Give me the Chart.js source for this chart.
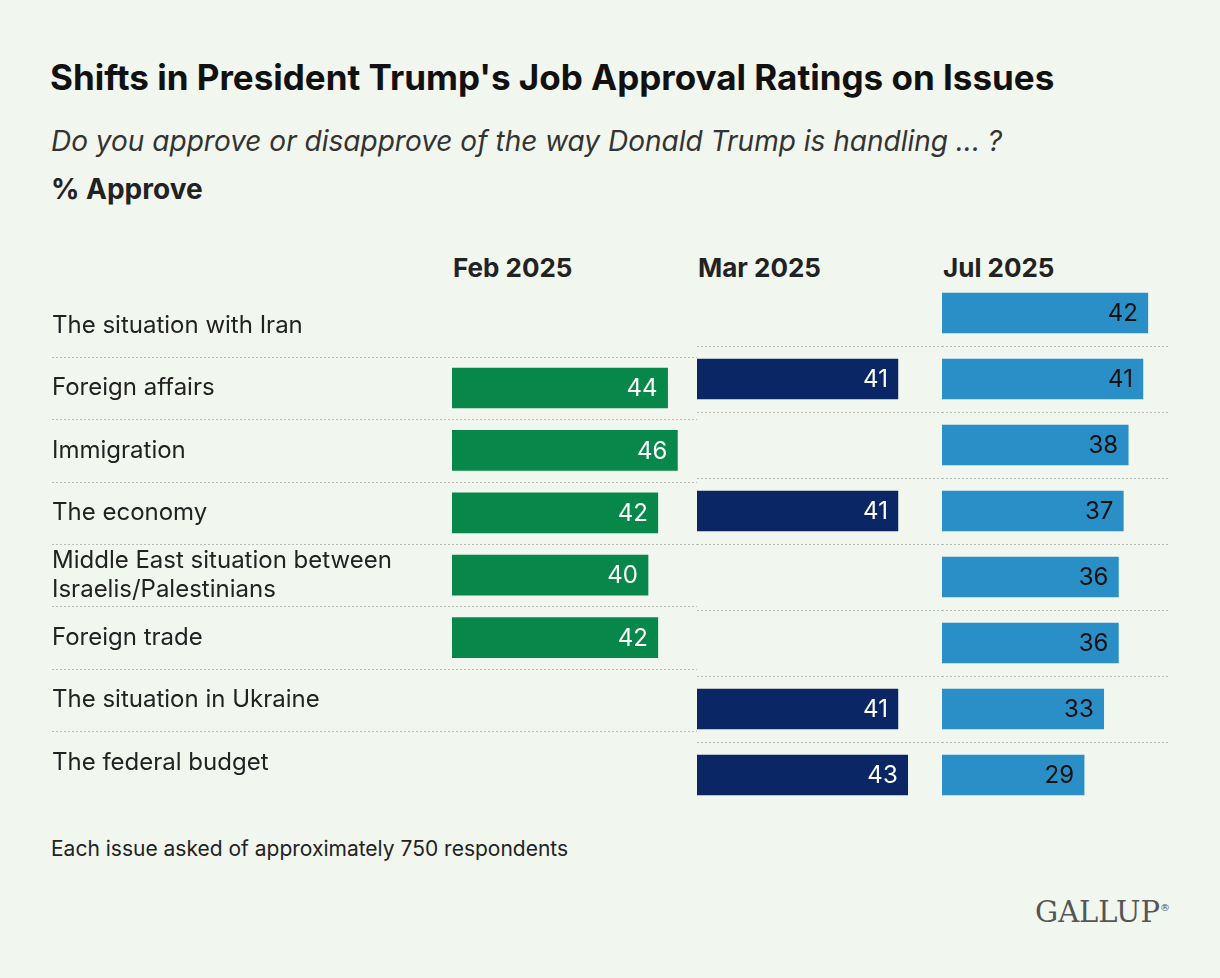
<!DOCTYPE html>
<html>
<head>
<meta charset="utf-8">
<script src="https://cdn.jsdelivr.net/npm/chart.js@4"></script>
<style>
  body { margin: 0; background: #f1f6ef; font-family: Inter, "Noto Sans", sans-serif; color: #1f1f1f; }
  #wrap { position: relative; width: 1220px; height: 978px; overflow: hidden; }
  .abs { position: absolute; white-space: nowrap; }
  .title { left: 50px; top: 56px; font-size: 35px; font-weight: 700; color: #111; }
  .sub { left: 51px; top: 124px; font-size: 28px; font-style: italic; color: #333; }
  .approve { left: 51px; top: 172px; font-size: 28px; font-weight: 700; color: #222; }
  .head { top: 252px; font-size: 26px; font-weight: 700; color: #222; }
  .note { left: 51px; top: 836px; font-size: 21px; color: #222; }
  .logo { left: 1035px; top: 895px; font-size: 29px; font-family: "DejaVu Serif", "Liberation Serif", serif; color: #555; letter-spacing: 0px; }
  canvas { position: absolute; }
</style>
</head>
<body>
<div id="wrap">
  <div class="abs title">Shifts in President Trump's Job Approval Ratings on Issues</div>
  <div class="abs sub">Do you approve or disapprove of the way Donald Trump is handling ... ?</div>
  <div class="abs approve">% Approve</div>
  <div class="abs head" style="left:453px">Feb 2025</div>
  <div class="abs head" style="left:698px">Mar 2025</div>
  <div class="abs head" style="left:943px">Jul 2025</div>
  <div class="abs note">Each issue asked of approximately 750 respondents</div>
  <div class="abs logo">GALLUP<sup style="font-size:10px">®</sup></div>
  <div style="position:absolute;left:0;top:280px;width:697px;height:528px"><canvas id="c1"></canvas></div>
  <div style="position:absolute;left:697px;top:280px;width:245px;height:528px"><canvas id="c2"></canvas></div>
  <div style="position:absolute;left:942px;top:280px;width:245px;height:528px"><canvas id="c3"></canvas></div>
</div>
<script>
const issues = [
  'The situation with Iran',
  'Foreign affairs',
  'Immigration',
  'The economy',
  ['Middle East situation between', 'Israelis/Palestinians'],
  'Foreign trade',
  'The situation in Ukraine',
  'The federal budget'
];
const feb2025 = [null, 44, 46, 42, 40, 42, null, null];
const mar2025 = [null, 41, null, 41, null, null, 41, 43];
const jul2025 = [42, 41, 38, 37, 36, 36, 33, 29];

const FONT = 'Inter, "Noto Sans", sans-serif';

// dotted separators between rows + value labels inside bar ends
const rowLines = {
  id: 'rowLines',
  beforeDatasetsDraw(chart, args, opts) {
    const ctx = chart.ctx, y = chart.scales.y;
    ctx.save();
    ctx.strokeStyle = '#b9bdb8';
    ctx.lineWidth = 1;
    ctx.setLineDash([2, 2]);
    for (let i = 0; i < issues.length - 1; i++) {
      const yy = Math.round((y.getPixelForTick(i) + y.getPixelForTick(i + 1)) / 2) + 0.5;
      ctx.beginPath();
      ctx.moveTo(opts.x0, yy);
      ctx.lineTo(Math.min(opts.x1, chart.width), yy);
      ctx.stroke();
    }
    ctx.restore();
  },
  afterDatasetsDraw(chart, args, opts) {
    const ctx = chart.ctx;
    const ds = chart.data.datasets[0];
    ctx.save();
    ctx.font = '24px ' + FONT;
    ctx.fillStyle = opts.textColor;
    ctx.textAlign = 'right';
    ctx.textBaseline = 'middle';
    chart.getDatasetMeta(0).data.forEach((bar, i) => {
      if (ds.data[i] == null) return;
      ctx.fillText(ds.data[i], bar.x - 10, bar.y + 1);
    });
    ctx.restore();
  }
};

function makeChart(id, data, color, textColor, withLabels, x0, x1) {
  new Chart(document.getElementById(id), {
    type: 'bar',
    data: { labels: issues, datasets: [{ data, backgroundColor: color, barThickness: 40 }] },
    plugins: [rowLines],
    options: {
      indexAxis: 'y',
      responsive: true,
      maintainAspectRatio: false,
      animation: false,
      layout: { padding: { left: withLabels ? 52 : 0, right: 0, top: 0, bottom: 0 } },
      scales: {
        x: { display: false, min: 0, max: 50 },
        y: {
          display: withLabels,
          grid: { display: false },
          border: { display: false },
          afterFit: s => { if (withLabels) s.width = 400; },
          ticks: { crossAlign: 'far', color: '#222', padding: 0, font: { family: FONT, size: 24 } }
        }
      },
      plugins: {
        legend: { display: false },
        tooltip: { enabled: false },
        rowLines: { textColor, x0, x1 }
      }
    }
  });
}

makeChart('c1', feb2025, '#07884a', '#ffffff', true, 52, 697);
makeChart('c2', mar2025, '#0b2664', '#ffffff', false, 0, 245);
makeChart('c3', jul2025, '#2a8fc6', '#111111', false, 0, 226);
</script>
</body>
</html>
